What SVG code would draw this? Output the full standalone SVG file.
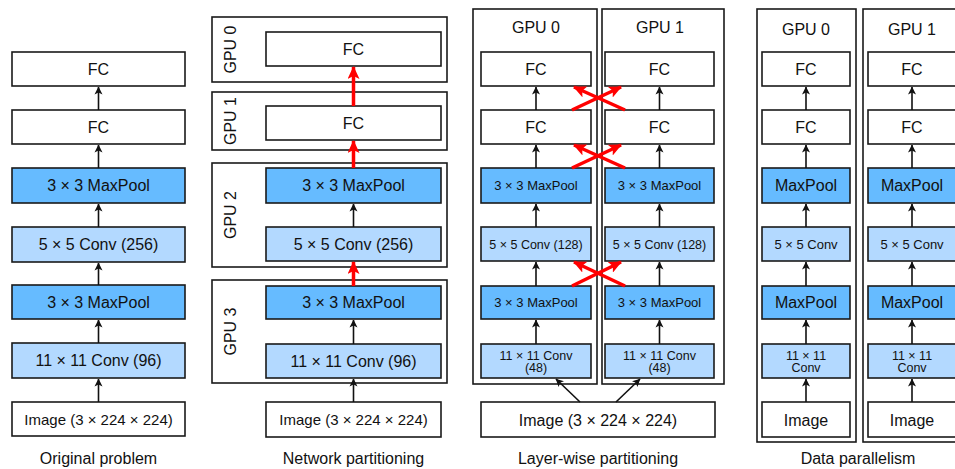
<svg xmlns="http://www.w3.org/2000/svg" width="955" height="469" viewBox="0 0 955 469">
<style>
  text { font-family: "Liberation Sans", Arial, sans-serif; fill: #111; text-anchor: middle; }
  .b { stroke: #1a1a1a; stroke-width: 1.6; }
  .w { fill: #ffffff; }
  .c { fill: #b3d9ff; }
  .m { fill: #66bbff; }
  .g { fill: none; stroke: #1a1a1a; stroke-width: 1.6; }
  .t16 { font-size: 16px; }
  .t15 { font-size: 15px; }
  .t13 { font-size: 13px; }
  .t12 { font-size: 12.5px; }
  .a { stroke: #111; stroke-width: 1.6; fill: none; marker-end: url(#ah); }
  .r { stroke: #ff0000; stroke-width: 3.5; fill: none; marker-end: url(#rh); }
</style>
<defs>
  <marker id="ah" markerUnits="userSpaceOnUse" markerWidth="8" markerHeight="9" viewBox="0 0 8 9" refX="7.5" refY="4.5" orient="auto">
    <path d="M0,0.5 L8,4.5 L0,8.5 L2,4.5 z" fill="#111"/>
  </marker>
  <marker id="rh" markerUnits="userSpaceOnUse" markerWidth="13" markerHeight="12" viewBox="0 0 13 12" refX="12" refY="6" orient="auto">
    <path d="M0,0 L13,6 L0,12 L3,6 z" fill="#ff0000"/>
  </marker>
</defs>
<rect width="955" height="469" fill="#ffffff"/>

<!-- Panel 1: Original problem -->
<g id="p1">
  <g id="p1-fc1"><rect class="b w" x="12" y="52" width="173" height="34"/><text class="t16" x="98.5" y="74.5">FC</text></g>
  <g id="p1-fc2"><rect class="b w" x="12" y="110" width="173" height="34"/><text class="t16" x="98.5" y="132.5">FC</text></g>
  <g id="p1-mp1"><rect class="b m" x="12" y="168" width="173" height="35"/><text class="t16" x="98.5" y="191">3 × 3 MaxPool</text></g>
  <g id="p1-cv2"><rect class="b c" x="12" y="227" width="173" height="35"/><text class="t16" x="98.5" y="250">5 × 5 Conv (256)</text></g>
  <g id="p1-mp2"><rect class="b m" x="12" y="285" width="173" height="34"/><text class="t16" x="98.5" y="307.5">3 × 3 MaxPool</text></g>
  <g id="p1-cv1"><rect class="b c" x="12" y="343" width="173" height="35"/><text class="t16" x="98.5" y="366">11 × 11 Conv (96)</text></g>
  <g id="p1-img"><rect class="b w" x="12" y="402" width="173" height="34"/><text class="t15" x="98.5" y="424.5">Image (3 × 224 × 224)</text></g>
  <text class="t16" x="98.5" y="464">Original problem</text>
</g>

<!-- Panel 2: Network partitioning -->
<g id="p2">
  <g id="p2-gpu0"><rect class="g" x="212" y="17" width="235" height="65"/><text class="t16" transform="translate(236,49.5) rotate(-90)">GPU 0</text></g>
  <g id="p2-gpu1"><rect class="g" x="212" y="92" width="235" height="58"/><text class="t16" transform="translate(236,121) rotate(-90)">GPU 1</text></g>
  <g id="p2-gpu2"><rect class="g" x="212" y="163" width="235" height="104"/><text class="t16" transform="translate(236,215) rotate(-90)">GPU 2</text></g>
  <g id="p2-gpu3"><rect class="g" x="212" y="280" width="235" height="103"/><text class="t16" transform="translate(236,331.5) rotate(-90)">GPU 3</text></g>
  <g id="p2-fc1"><rect class="b w" x="266" y="32" width="175" height="34"/><text class="t16" x="353.5" y="54.5">FC</text></g>
  <g id="p2-fc2"><rect class="b w" x="266" y="106" width="175" height="34"/><text class="t16" x="353.5" y="128.5">FC</text></g>
  <g id="p2-mp1"><rect class="b m" x="266" y="168" width="175" height="35"/><text class="t16" x="353.5" y="191">3 × 3 MaxPool</text></g>
  <g id="p2-cv2"><rect class="b c" x="266" y="227" width="175" height="34"/><text class="t16" x="353.5" y="249.5">5 × 5 Conv (256)</text></g>
  <g id="p2-mp2"><rect class="b m" x="266" y="286" width="175" height="33"/><text class="t16" x="353.5" y="308">3 × 3 MaxPool</text></g>
  <g id="p2-cv1"><rect class="b c" x="266" y="344" width="175" height="34"/><text class="t16" x="353.5" y="366.5">11 × 11 Conv (96)</text></g>
  <g id="p2-img"><rect class="b w" x="266" y="402" width="175" height="35"/><text class="t15" x="353.5" y="425">Image (3 × 224 × 224)</text></g>
  <text class="t16" x="353.5" y="464">Network partitioning</text>
</g>

<!-- Panel 3: Layer-wise partitioning -->
<g id="p3">
  <g id="p3-gpu0"><rect class="g" x="473" y="9" width="124" height="375"/><text class="t16" x="536" y="33">GPU 0</text></g>
  <g id="p3-gpu1"><rect class="g" x="602" y="9" width="122" height="375"/><text class="t16" x="660" y="33">GPU 1</text></g>
  <g id="p3-a-fc1"><rect class="b w" x="481" y="52" width="110" height="34"/><text class="t16" x="536" y="74.5">FC</text></g>
  <g id="p3-a-fc2"><rect class="b w" x="481" y="110" width="110" height="34"/><text class="t16" x="536" y="132.5">FC</text></g>
  <g id="p3-a-mp1"><rect class="b m" x="481" y="168" width="110" height="35"/><text class="t13" x="536" y="190">3 × 3 MaxPool</text></g>
  <g id="p3-a-cv2"><rect class="b c" x="481" y="227" width="110" height="34"/><text class="t12" x="536" y="248.5">5 × 5 Conv (128)</text></g>
  <g id="p3-a-mp2"><rect class="b m" x="481" y="286" width="110" height="33"/><text class="t13" x="536" y="307">3 × 3 MaxPool</text></g>
  <g id="p3-a-cv1"><rect class="b c" x="481" y="344" width="110" height="34"/><text class="t12" x="536" y="359.5">11 × 11 Conv</text><text class="t12" x="536" y="372">(48)</text></g>
  <g id="p3-b-fc1"><rect class="b w" x="605" y="52" width="109" height="34"/><text class="t16" x="659.5" y="74.5">FC</text></g>
  <g id="p3-b-fc2"><rect class="b w" x="605" y="110" width="109" height="34"/><text class="t16" x="659.5" y="132.5">FC</text></g>
  <g id="p3-b-mp1"><rect class="b m" x="605" y="168" width="109" height="35"/><text class="t13" x="659.5" y="190">3 × 3 MaxPool</text></g>
  <g id="p3-b-cv2"><rect class="b c" x="605" y="227" width="109" height="34"/><text class="t12" x="659.5" y="248.5">5 × 5 Conv (128)</text></g>
  <g id="p3-b-mp2"><rect class="b m" x="605" y="286" width="109" height="33"/><text class="t13" x="659.5" y="307">3 × 3 MaxPool</text></g>
  <g id="p3-b-cv1"><rect class="b c" x="605" y="344" width="109" height="34"/><text class="t12" x="659.5" y="359.5">11 × 11 Conv</text><text class="t12" x="659.5" y="372">(48)</text></g>
  <g id="p3-img"><rect class="b w" x="481" y="402" width="234" height="35"/><text class="t16" x="598" y="425.5">Image (3 × 224 × 224)</text></g>
  <text class="t16" x="598" y="464">Layer-wise partitioning</text>
</g>

<!-- Panel 4: Data parallelism -->
<g id="p4">
  <g id="p4-gpu0"><rect class="g" x="757" y="9" width="99" height="433"/><text class="t16" x="806" y="35">GPU 0</text></g>
  <g id="p4-gpu1"><rect class="g" x="863" y="9" width="99" height="433"/><text class="t16" x="912" y="35">GPU 1</text></g>
  <g id="p4-a-fc1"><rect class="b w" x="762" y="52" width="88" height="34"/><text class="t16" x="806" y="74.5">FC</text></g>
  <g id="p4-a-fc2"><rect class="b w" x="762" y="110" width="88" height="34"/><text class="t16" x="806" y="132.5">FC</text></g>
  <g id="p4-a-mp1"><rect class="b m" x="762" y="168" width="88" height="35"/><text class="t16" x="806" y="191">MaxPool</text></g>
  <g id="p4-a-cv2"><rect class="b c" x="762" y="227" width="88" height="34"/><text class="t13" x="806" y="248.5">5 × 5 Conv</text></g>
  <g id="p4-a-mp2"><rect class="b m" x="762" y="286" width="88" height="33"/><text class="t16" x="806" y="308">MaxPool</text></g>
  <g id="p4-a-cv1"><rect class="b c" x="762" y="344" width="88" height="34"/><text class="t12" x="806" y="359.5">11 × 11</text><text class="t12" x="806" y="372">Conv</text></g>
  <g id="p4-a-img"><rect class="b w" x="762" y="402" width="88" height="35"/><text class="t16" x="806" y="425.5">Image</text></g>
  <g id="p4-b-fc1"><rect class="b w" x="868" y="52" width="88" height="34"/><text class="t16" x="912" y="74.5">FC</text></g>
  <g id="p4-b-fc2"><rect class="b w" x="868" y="110" width="88" height="34"/><text class="t16" x="912" y="132.5">FC</text></g>
  <g id="p4-b-mp1"><rect class="b m" x="868" y="168" width="88" height="35"/><text class="t16" x="912" y="191">MaxPool</text></g>
  <g id="p4-b-cv2"><rect class="b c" x="868" y="227" width="88" height="34"/><text class="t13" x="912" y="248.5">5 × 5 Conv</text></g>
  <g id="p4-b-mp2"><rect class="b m" x="868" y="286" width="88" height="33"/><text class="t16" x="912" y="308">MaxPool</text></g>
  <g id="p4-b-cv1"><rect class="b c" x="868" y="344" width="88" height="34"/><text class="t12" x="912" y="359.5">11 × 11</text><text class="t12" x="912" y="372">Conv</text></g>
  <g id="p4-b-img"><rect class="b w" x="868" y="402" width="88" height="35"/><text class="t16" x="912" y="425.5">Image</text></g>
  <text class="t16" x="858" y="464">Data parallelism</text>
</g>

<!-- Connectors -->
<g id="connectors">
  <!-- panel 1 -->
  <line class="a" x1="98.5" y1="110" x2="98.5" y2="87"/>
  <line class="a" x1="98.5" y1="168" x2="98.5" y2="145"/>
  <line class="a" x1="98.5" y1="227" x2="98.5" y2="204"/>
  <line class="a" x1="98.5" y1="285" x2="98.5" y2="263"/>
  <line class="a" x1="98.5" y1="343" x2="98.5" y2="320"/>
  <line class="a" x1="98.5" y1="402" x2="98.5" y2="379"/>
  <!-- panel 2 -->
  <line class="r" x1="353.5" y1="106" x2="353.5" y2="67"/>
  <line class="r" x1="353.5" y1="168" x2="353.5" y2="141"/>
  <line class="a" x1="353.5" y1="227" x2="353.5" y2="204"/>
  <line class="r" x1="353.5" y1="286" x2="353.5" y2="262"/>
  <line class="a" x1="353.5" y1="344" x2="353.5" y2="320"/>
  <line class="a" x1="353.5" y1="402" x2="353.5" y2="379"/>
  <!-- panel 3 verticals -->
  <line class="a" x1="536" y1="110" x2="536" y2="87"/>
  <line class="a" x1="536" y1="168" x2="536" y2="145"/>
  <line class="a" x1="536" y1="227" x2="536" y2="204"/>
  <line class="a" x1="536" y1="286" x2="536" y2="262"/>
  <line class="a" x1="536" y1="344" x2="536" y2="320"/>
  <line class="a" x1="659.5" y1="110" x2="659.5" y2="87"/>
  <line class="a" x1="659.5" y1="168" x2="659.5" y2="145"/>
  <line class="a" x1="659.5" y1="227" x2="659.5" y2="204"/>
  <line class="a" x1="659.5" y1="286" x2="659.5" y2="262"/>
  <line class="a" x1="659.5" y1="344" x2="659.5" y2="320"/>
  <line class="a" x1="580" y1="402" x2="556" y2="379"/>
  <line class="a" x1="616" y1="402" x2="640" y2="379"/>
  <!-- panel 3 red crosses -->
  <line class="r" x1="572" y1="110" x2="621" y2="87"/>
  <line class="r" x1="625" y1="110" x2="574" y2="87"/>
  <line class="r" x1="572" y1="168" x2="621" y2="145"/>
  <line class="r" x1="625" y1="168" x2="574" y2="145"/>
  <line class="r" x1="572" y1="286" x2="621" y2="262"/>
  <line class="r" x1="625" y1="286" x2="574" y2="262"/>
  <!-- panel 4 -->
  <line class="a" x1="806" y1="110" x2="806" y2="87"/>
  <line class="a" x1="806" y1="168" x2="806" y2="145"/>
  <line class="a" x1="806" y1="227" x2="806" y2="204"/>
  <line class="a" x1="806" y1="286" x2="806" y2="262"/>
  <line class="a" x1="806" y1="344" x2="806" y2="320"/>
  <line class="a" x1="806" y1="402" x2="806" y2="379"/>
  <line class="a" x1="912" y1="110" x2="912" y2="87"/>
  <line class="a" x1="912" y1="168" x2="912" y2="145"/>
  <line class="a" x1="912" y1="227" x2="912" y2="204"/>
  <line class="a" x1="912" y1="286" x2="912" y2="262"/>
  <line class="a" x1="912" y1="344" x2="912" y2="320"/>
  <line class="a" x1="912" y1="402" x2="912" y2="379"/>
</g>
</svg>
